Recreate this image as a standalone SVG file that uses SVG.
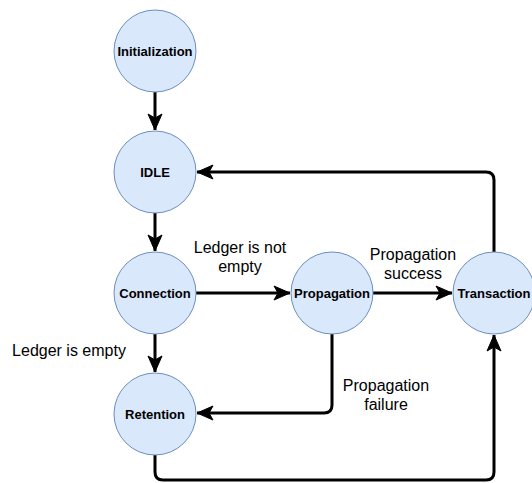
<svg xmlns="http://www.w3.org/2000/svg" width="532" height="483" viewBox="0 0 532 483">
<style>
.node circle{fill:#dae8fc;stroke:#6c8ebf;stroke-width:1}
.node text{font-family:"Liberation Sans",Arial,sans-serif;font-size:13px;font-weight:bold;fill:#000;text-anchor:middle}
.edge{fill:none;stroke:#000;stroke-width:3;stroke-linejoin:round}
.lbl{font-family:"Liberation Sans",Arial,sans-serif;font-size:16px;fill:#000;text-anchor:middle}
</style>
<defs>
<marker id="arr" markerUnits="userSpaceOnUse" markerWidth="22" markerHeight="20" viewBox="-18 -10 22 20" refX="0" refY="0" orient="auto">
<path d="M0,0 L-16,-7 L-12,0 L-16,7 Z" fill="#000" stroke="#000" stroke-width="1"/>
</marker>
</defs>
<rect width="532" height="483" fill="#fff"/>
<g id="connectors">
<path class="edge" d="M155,92 L155,130" marker-end="url(#arr)"/>
<path class="edge" d="M155,213 L155,251" marker-end="url(#arr)"/>
<path class="edge" d="M155,334 L155,372" marker-end="url(#arr)"/>
<path class="edge" d="M196,293 L290,293" marker-end="url(#arr)"/>
<path class="edge" d="M373,293 L452,293" marker-end="url(#arr)"/>
<path class="edge" d="M494,252 L494,180 Q494,172 486,172 L197,172" marker-end="url(#arr)"/>
<path class="edge" d="M332,334 L332,405 Q332,413 324,413 L197,413" marker-end="url(#arr)"/>
<path class="edge" d="M155,455 L155,472 Q155,480 163,480 L486,480 Q494,480 494,472 L494,335" marker-end="url(#arr)"/>
<text class="lbl" x="240" y="253">Ledger is not</text>
<text class="lbl" x="240" y="272">empty</text>
<text class="lbl" x="413" y="260">Propagation</text>
<text class="lbl" x="413" y="279">success</text>
<text class="lbl" x="386" y="391">Propagation</text>
<text class="lbl" x="386" y="410">failure</text>
<text class="lbl" x="69" y="356">Ledger is empty</text>
</g>
<g id="initialization" class="node"><circle cx="155" cy="51" r="41"/><text x="155" y="56">Initialization</text></g>
<g id="idle" class="node"><circle cx="155" cy="172" r="41"/><text x="155" y="177">IDLE</text></g>
<g id="connection" class="node"><circle cx="155" cy="293" r="41"/><text x="155" y="298">Connection</text></g>
<g id="retention" class="node"><circle cx="155" cy="414" r="41"/><text x="155" y="419">Retention</text></g>
<g id="propagation" class="node"><circle cx="332" cy="293" r="41"/><text x="332" y="298">Propagation</text></g>
<g id="transaction" class="node"><circle cx="494" cy="293" r="41"/><text x="494" y="298">Transaction</text></g>
</svg>
